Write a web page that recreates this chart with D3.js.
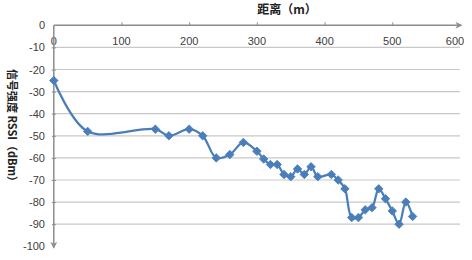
<!DOCTYPE html>
<html><head><meta charset="utf-8">
<script src="https://cdn.jsdelivr.net/npm/d3@7"></script>
<style>body{margin:0;background:#fff}svg{display:block}</style>
</head><body>
<svg id="c" width="472" height="260"></svg>
<script>
const distances = [0,50,150,170,200,220,240,260,280,300,310,320,330,340,350,360,370,380,390,410,420,430,440,450,460,470,480,490,500,510,520,530];
const rssi = [-25,-48,-47,-50,-47,-50,-60,-58.5,-53,-57,-60.5,-63,-63,-67.5,-68.5,-65,-67.5,-64,-68.5,-67.5,-70,-74,-87,-87,-83.5,-82.5,-74,-78.5,-84,-90,-80,-86.5];
const xTicks = [0,100,200,300,400,500,600];
const yTicks = [0,-10,-20,-30,-40,-50,-60,-70,-80,-90,-100];
const gridTicks = [-10,-20,-30,-40,-50,-60,-70,-80,-90];
const xTitle = "距离（m）";
const yTitle = "信号强度 RSSI（dBm）";

const svg = d3.select("#c");
const x = d3.scaleLinear().domain([0,600]).range([53.8,460]);
const y = d3.scaleLinear().domain([0,-100]).range([25.3,246.3]);
const axisColor = "#8c8c8c";
const font = "'Liberation Sans', Arial, sans-serif";

// gridlines
svg.append("g").selectAll("line").data(gridTicks).join("line")
  .attr("x1", x(0)).attr("x2", x(600))
  .attr("y1", d => y(d)).attr("y2", d => y(d))
  .attr("stroke", "#c8c8c8").attr("stroke-width", 1.2);

// arrow marker
const defs = svg.append("defs");
defs.append("marker").attr("id","arr").attr("viewBox","0 0 10 10")
  .attr("refX",8).attr("refY",5).attr("markerWidth",7).attr("markerHeight",7)
  .attr("markerUnits","userSpaceOnUse")
  .attr("orient","auto")
  .append("path").attr("d","M0,0 L10,5 L0,10 L3,5 Z").attr("fill",axisColor);

// x axis (top)
const xAxis = d3.axisBottom(x).tickValues(xTicks.slice(1,-1)).tickSize(3).tickSizeOuter(0).tickFormat("");
const gx = svg.append("g").attr("transform",`translate(0,${y(0)})`).call(xAxis);
gx.select(".domain").remove();
gx.selectAll("line").attr("stroke",axisColor).attr("y1",-3).attr("y2",0);
svg.append("line").attr("x1",x(0)).attr("x2",x(600)+1).attr("y1",y(0)).attr("y2",y(0))
  .attr("stroke",axisColor).attr("stroke-width",1.5).attr("marker-end","url(#arr)");
svg.append("g").selectAll("text").data(xTicks).join("text")
  .attr("x", d => d===600 ? x(d)-5 : x(d)).attr("y", y(0)+20)
  .attr("text-anchor","middle").attr("font-family",font).attr("font-size",11)
  .attr("fill","#404040").text(d => d);

// y axis
const yAxis = d3.axisLeft(y).tickValues(yTicks.slice(1,-1)).tickSize(3).tickFormat("");
const gy = svg.append("g").attr("transform",`translate(${x(0)},0)`).call(yAxis);
gy.select(".domain").remove();
gy.selectAll("line").attr("stroke",axisColor).attr("x1",-2).attr("x2",2);
svg.append("line").attr("x1",x(0)).attr("x2",x(0)).attr("y1",y(0)).attr("y2",y(-100)+1)
  .attr("stroke",axisColor).attr("stroke-width",1.5).attr("marker-end","url(#arr)");
svg.append("g").selectAll("text").data(yTicks).join("text")
  .attr("x", 45).attr("y", d => y(d)+4)
  .attr("text-anchor","end").attr("font-family",font).attr("font-size",11)
  .attr("fill","#404040").text(d => d);

// titles
svg.append("text").attr("x",287).attr("y",14).attr("text-anchor","middle")
  .attr("font-family","'Noto Sans CJK SC', sans-serif").attr("font-weight","bold")
  .attr("font-size",12).attr("fill","#222").text(xTitle);
svg.append("text").attr("transform","translate(8,128) rotate(90)").attr("text-anchor","middle")
  .attr("font-family","'Noto Sans CJK SC', sans-serif").attr("font-weight","bold")
  .attr("font-size",11).attr("fill","#222").text(yTitle);

// data line
const data = distances.map((d,i)=>({x:d,y:rssi[i]}));
const line = d3.line().x(d=>x(d.x)).y(d=>y(d.y)).curve(d3.curveCatmullRom.alpha(0.5));
svg.append("path").datum(data).attr("d",line).attr("fill","none")
  .attr("stroke","#4a7ebb").attr("stroke-width",2.25);
const sym = d3.symbol().type(d3.symbolSquare).size(36);
svg.append("g").selectAll("path").data(data).join("path")
  .attr("d", sym).attr("transform", d=>`translate(${x(d.x)},${y(d.y)}) rotate(45)`)
  .attr("fill","#4a7ebb").attr("stroke","#4a7ebb").attr("stroke-width",0.8);
</script>
</body></html>
